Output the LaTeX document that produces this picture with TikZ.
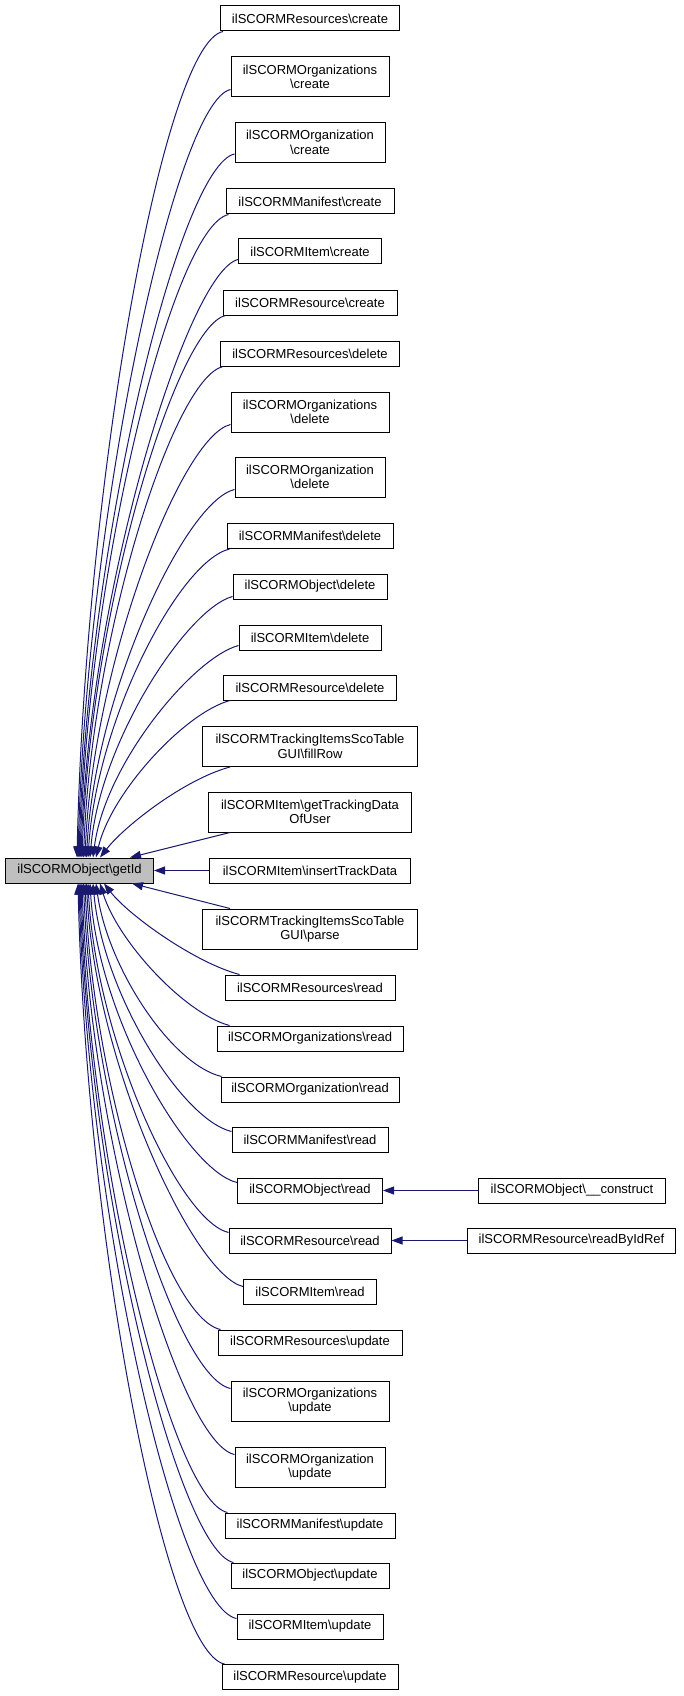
\documentclass[tikz,border=0pt]{standalone}
\usepackage{fontspec}
\setmainfont{Liberation Sans}
\usetikzlibrary{arrows.meta,calc}
\definecolor{eblue}{HTML}{191970}
\definecolor{nodegray}{HTML}{BFBFBF}
\tikzset{
  box/.style={draw=black, line width=1pt, fill=white, text=black,
    font=\fontsize{13}{14.5}\selectfont, inner xsep=3pt, inner ysep=2pt,
    minimum height=25pt, align=center},
  dbox/.style={box, minimum height=40pt},
  edge/.style={draw=eblue, line width=1pt, {Triangle[length=11pt,width=8pt]}-}
}
\newcommand\uped[6]{\draw[edge] ($(g.north west)+(#2,0)$) .. controls +(#3,-#4) and +(-#5,12) .. ($(#1.south west)+#6$);}
\newcommand\downed[6]{\draw[edge] ($(g.south west)+(#2,0)$) .. controls +(#3,#4) and +(-#5,-12) .. ($(#1.north west)+#6$);}
\newcommand\bs{\textbackslash}
\begin{document}
\begin{tikzpicture}[x=1pt,y=-1pt]
\useasboundingbox (0,0) rectangle (683,1696);
% caller column
\node[box,  minimum width=179] (n1)  at (310,18.5)   {ilSCORMResources\bs create};
\node[dbox, minimum width=158] (n2)  at (310,77)     {ilSCORMOrganizations\\\bs create};
\node[dbox, minimum width=150] (n3)  at (310,142.5)  {ilSCORMOrganization\\\bs create};
\node[box,  minimum width=168] (n4)  at (310,201.5)  {ilSCORMManifest\bs create};
\node[box,  minimum width=143] (n5)  at (310,251.5)  {ilSCORMItem\bs create};
\node[box,  minimum width=174] (n6)  at (310,302.5)  {ilSCORMResource\bs create};
\node[box,  minimum width=179] (n7)  at (310,353.5)  {ilSCORMResources\bs delete};
\node[dbox, minimum width=158] (n8)  at (310,412)    {ilSCORMOrganizations\\\bs delete};
\node[dbox, minimum width=150] (n9)  at (310,477)    {ilSCORMOrganization\\\bs delete};
\node[box,  minimum width=166] (n10) at (310,536)    {ilSCORMManifest\bs delete};
\node[box,  minimum width=154] (n11) at (310,586.5)  {ilSCORMObject\bs delete};
\node[box,  minimum width=142] (n12) at (310,637.5)  {ilSCORMItem\bs delete};
\node[box,  minimum width=173] (n13) at (310,687.5)  {ilSCORMResource\bs delete};
\node[dbox, minimum width=215] (n14) at (310,746.5)  {ilSCORMTrackingItemsScoTable\\GUI\bs fillRow};
\node[dbox, minimum width=203] (n15) at (310,812)    {ilSCORMItem\bs getTrackingData\\OfUser};
\node[box,  minimum width=201] (n16) at (310,870.5)  {ilSCORMItem\bs insertTrackData};
\node[dbox, minimum width=215] (n17) at (310,929)    {ilSCORMTrackingItemsScoTable\\GUI\bs parse};
\node[box,  minimum width=170] (n18) at (310,987.5)  {ilSCORMResources\bs read};
\node[box,  minimum width=186] (n19) at (310,1038.5) {ilSCORMOrganizations\bs read};
\node[box,  minimum width=178] (n20) at (310,1089.5) {ilSCORMOrganization\bs read};
\node[box,  minimum width=156] (n21) at (310,1139.5) {ilSCORMManifest\bs read};
\node[box,  minimum width=145] (n22) at (310,1190.5) {ilSCORMObject\bs read};
\node[box,  minimum width=162] (n23) at (310,1240.5) {ilSCORMResource\bs read};
\node[box,  minimum width=133] (n24) at (310,1291.5) {ilSCORMItem\bs read};
\node[box,  minimum width=184] (n25) at (310,1342.5) {ilSCORMResources\bs update};
\node[dbox, minimum width=158] (n26) at (310,1401)   {ilSCORMOrganizations\\\bs update};
\node[dbox, minimum width=150] (n27) at (310,1467)   {ilSCORMOrganization\\\bs update};
\node[box,  minimum width=170] (n28) at (310,1525.5) {ilSCORMManifest\bs update};
\node[box,  minimum width=158] (n29) at (310,1575.5) {ilSCORMObject\bs update};
\node[box,  minimum width=146] (n30) at (310,1626.5) {ilSCORMItem\bs update};
\node[box,  minimum width=176] (n31) at (310,1677)   {ilSCORMResource\bs update};
% target
\node[box, fill=nodegray, minimum width=148] (g) at (79.5,870.5) {ilSCORMObject\bs getId};
% third column
\node[box, minimum width=187] (c1) at (572,1190.5) {ilSCORMObject\bs\_\_construct};
\node[box, minimum width=208] (c2) at (571.5,1240.5) {ilSCORMResource\bs readByIdRef};
% edges above
\uped{n1}{72}{8}{372}{60}{(3,0)}
\uped{n2}{73}{8}{342}{55}{(0,-8)}
\uped{n3}{74}{8}{313}{55}{(0,-9)}
\uped{n4}{75}{8}{290}{55}{(3,0)}
\uped{n5}{76}{8}{267}{50}{(0,-5)}
\uped{n6}{77}{8}{244}{50}{(3,0)}
\uped{n7}{78.5}{8}{221}{50}{(3,0)}
\uped{n8}{80}{8}{192}{50}{(0,-8)}
\uped{n9}{81.5}{8}{162}{50}{(0,-8)}
\uped{n10}{83}{9}{139}{50}{(3,0)}
\uped{n11}{85}{10}{117}{45}{(0,-3)}
\uped{n12}{88}{12}{94}{45}{(0,-5)}
\uped{n13}{91}{15}{65}{45}{(7,0)}
\uped{n14}{95}{25}{32}{45}{(28,0)}
\draw[edge] ($(g.north west)+(125,0)$) -- ($(n15.south west)+(22,0)$);
\draw[edge] (g.east) -- (n16.west);
\draw[edge] ($(g.south west)+(127,0)$) -- ($(n17.north west)+(28,0)$);
% edges below
\downed{n18}{99}{25}{32}{45}{(15,0)}
\downed{n19}{95}{18}{58}{45}{(13,0)}
\downed{n20}{91}{12}{85}{50}{(1,0)}
\downed{n21}{88}{10}{110}{50}{(0,5)}
\downed{n22}{85}{8}{133}{50}{(0,5)}
\downed{n23}{83}{8}{155}{50}{(0,5)}
\downed{n24}{81.5}{8}{178}{50}{(0,8)}
\downed{n25}{80}{8}{201}{55}{(3,0)}
\downed{n26}{78.5}{8}{224}{55}{(0,8)}
\downed{n27}{77}{8}{254}{55}{(0,8)}
\downed{n28}{76}{8}{283}{55}{(3,0)}
\downed{n29}{75}{8}{306}{55}{(3,0)}
\downed{n30}{74}{8}{329}{60}{(0,5)}
\downed{n31}{73}{8}{351}{60}{(3,0)}
% second level
\draw[edge] (n22.east) -- (c1.west);
\draw[edge] (n23.east) -- (c2.west);
\end{tikzpicture}
\end{document}
